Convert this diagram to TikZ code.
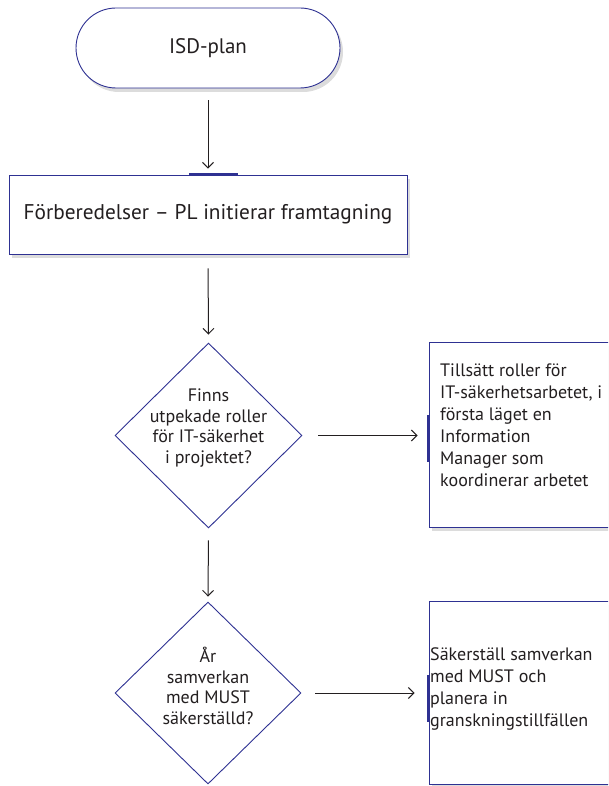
\documentclass[tikz,border=0pt]{standalone}
\usepackage{fontspec}
\setmainfont{PT Sans}
\usetikzlibrary{shapes.geometric,shadows,arrows.meta,calc}
\definecolor{navy}{RGB}{46,49,146}
\definecolor{ink}{RGB}{35,31,32}
\tikzset{
  frame/.style={draw=navy, line width=0.9pt, fill=white, inner sep=0pt, text=ink},
  shad/.style={drop shadow={opacity=0.28, shadow xshift=3pt, shadow yshift=-4pt}},
  flow/.style={draw=ink, line width=1pt, -{Straight Barb[length=5.5pt,width=11pt]}},
  bluemark/.style={draw=navy, line width=2.6pt},
  termtxt/.style={font=\fontsize{21}{25}\selectfont},
  bigtxt/.style={font=\fontsize{21.3}{25}\selectfont},
  midtxt/.style={font=\fontsize{18}{22}\selectfont, text=ink, align=left, inner sep=0pt},
  qtxt/.style={font=\fontsize{18}{20.5}\selectfont, text=ink, align=center, inner sep=0pt},
}
\begin{document}
\begin{tikzpicture}[x=1pt,y=-1pt]
\useasboundingbox (0,0) rectangle (608,786);
\clip (0,0) rectangle (608,786);

\node[frame, shad, rounded corners=40pt, minimum width=264pt, minimum height=80pt, termtxt] (start) at (208,48) {ISD-plan};
\node[frame, shad, minimum width=398pt, minimum height=79pt, bigtxt] (prep) at (208,214.5) {Förberedelser – PL initierar framtagning};
\node[frame, diamond, minimum width=187pt, minimum height=185pt] (q1) at (208.5,435.5) {};
\node[qtxt] (q1t) at (208.5,428) {Finns\\utpekade roller\\för IT-säkerhet\\i projektet?};
\node[frame, shad, minimum width=191pt, minimum height=185pt] (r1) at (524.5,434.5) {};
\node[midtxt, anchor=north west] (r1t) at (440,364) {Tillsätt roller för\\IT-säkerhetsarbetet, i\\första läget en\\Information\\Manager som\\koordinerar arbetet};
\node[frame, diamond, minimum width=186pt, minimum height=182pt] (q2) at (208,693) {};
\node[qtxt] (q2t) at (208,686) {År\\samverkan\\med MUST\\säkerställd?};
\node[frame, shad, minimum width=191pt, minimum height=183pt] (r2) at (524.5,692.5) {};
\node[midtxt, anchor=north west] (r2t) at (430,647) {Säkerställ samverkan\\med MUST och\\planera in\\granskningstillfällen};

\draw[bluemark] ([shift={(-19,0)}]prep.north) -- ([shift={(30,0)}]prep.north);
\draw[bluemark] ([shift={(0,-19.5)}]r1.west) -- ([shift={(0,27.5)}]r1.west);
\draw[bluemark] ([shift={(0,-17.5)}]r2.west) -- ([shift={(0,29.5)}]r2.west);

\draw[flow, shorten <=12pt, shorten >=6pt] (start.south) -- (prep.north);
\draw[flow, shorten <=14pt, shorten >=8pt] (prep.south) -- (q1.north);
\draw[flow, shorten <=16pt, shorten >=11pt] (q1.east) -- (r1.west |- q1.east);
\draw[flow, shorten <=12pt, shorten >=5pt] (q1.south) -- (q2.north);
\draw[flow, shorten <=14pt, shorten >=14pt] (q2.east) -- (r2.west |- q2.east);
\end{tikzpicture}
\end{document}
